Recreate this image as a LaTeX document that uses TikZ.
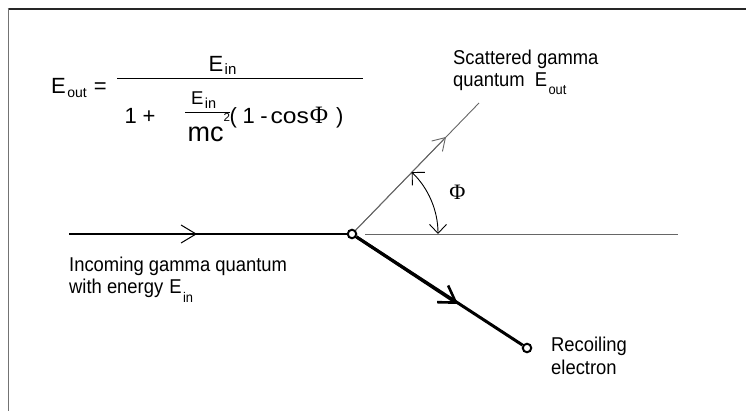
\documentclass[tikz,border=0pt]{standalone}
\usepackage{fontspec}
\setmainfont{Liberation Sans}
\newfontfamily\labfont[FakeStretch=0.92]{Liberation Sans}
\newfontfamily\phifont{Liberation Serif}
\usetikzlibrary{arrows.meta}
% #1 size, #2 drop, #3 text
\newcommand\lsub[3]{\kern1.5pt\raisebox{-#2pt}{\fontsize{#1}{#1}\selectfont #3}}
\begin{document}
\begin{tikzpicture}[x=1pt,y=-1pt,
  lab/.style={inner sep=0pt, anchor=base west, font=\labfont\fontsize{20}{24}\selectfont},
  frm/.style={inner sep=0pt, anchor=base west, font=\fontsize{22}{26}\selectfont},
  dot/.style={circle, draw, fill=white, line width=2pt, minimum size=8.5pt, inner sep=0pt},
  thinline/.style={line width=0.9pt, draw=black!60},
  vbarb/.style={-{Straight Barb[length=#1,width=18pt,line width=1pt]}}]
\useasboundingbox (0,0) rectangle (746,411);
% frame
\draw[line width=1.8pt, black!85] (7.6,9) -- (746,9);
\draw[line width=1.8pt, black!55] (8.5,8.2) -- (8.5,411);
% formula
\node[frm] (eout) at (51,93.3) {E\lsub{14}{4}{out}\hspace{7pt}=};
\node[frm] (num) at (208.3,71.7) {E\lsub{15}{3.3}{in}};
\draw[line width=1.1pt] (117,78.3) -- (363,78.3);
\node[frm] (one) at (124.3,123.3) {1\hspace{6pt}+};
\node[frm, font=\fontsize{18.5}{22}\selectfont] (ein2) at (190.8,105) {E\lsub{14.5}{3.3}{in}};
\draw[line width=1.1pt] (185,112.7) -- (230,112.7);
\node[frm, font=\fontsize{27}{30}\selectfont] (mc) at (187.5,141.7) {mc};
\node[frm, font=\fontsize{11.6}{12}\selectfont] (sq) at (223.3,121.5) {2};
\node[frm] (cosphi) at (229.5,123.3) {(\hspace{5.5pt}1\hspace{5.5pt}-\hspace{3pt}\scalebox{1.12}[1]{cos}\hspace{1pt}{\phifont\fontsize{25}{25}\selectfont Φ}\hspace{8pt})};
% labels
\node[lab] (sc1) at (453,65) {Scattered gamma};
\node[lab] (sc2) at (453,87) {quantum\hspace{10pt}E\lsub{14}{8}{out}};
\node[font=\phifont\fontsize{22}{22}\selectfont, inner sep=0pt] (phi) at (457.5,192.5) {Φ};
\node[lab] (in1) at (69,272) {Incoming gamma quantum};
\node[lab] (in2) at (69,294) {with energy\hspace{6pt}E\lsub{14}{9}{in}};
\node[lab] (rc1) at (551,351) {Recoiling};
\node[lab] (rc2) at (551,374) {electron};
% geometry
\node[dot] (v) at (352,234) {};
\node[dot] (e) at (527,348) {};
\coordinate (inS) at (69,234);
\coordinate (inA) at (197,234);
\coordinate (g1) at (365,234);
\coordinate (g2) at (678,234);
\coordinate (sA) at (446,137);
\coordinate (sE) at (479,103);
\coordinate (eA) at (458,304);
\coordinate (t1) at (411.7,172.1);
\coordinate (t2) at (438,234);
% incoming
\draw[line width=1.4pt] (inS) -- (v);
\draw[line width=1.4pt, vbarb=15pt] (inS) -- (inA);
% outgoing horizontal reference
\draw[thinline] (g1) -- (g2);
% scattered
\draw[thinline] (v) -- (sE);
\draw[thinline, -{Straight Barb[length=12pt,width=15pt,line width=0.9pt]}] (v) -- (sA);
% electron
\draw[line width=3pt] (v) -- (e);
\draw[line width=3pt, -{Straight Barb[length=16pt,width=20pt,line width=2.6pt]}] (v) -- (eA);
% angle
\draw[line width=0.9pt, {Straight Barb[length=9pt,width=18pt,line width=0.9pt]}-{Straight Barb[length=9pt,width=17pt,line width=0.9pt]}]
  (t1) .. controls (428.5,188.3) and (438,210.7) .. (t2);
\end{tikzpicture}
\end{document}
